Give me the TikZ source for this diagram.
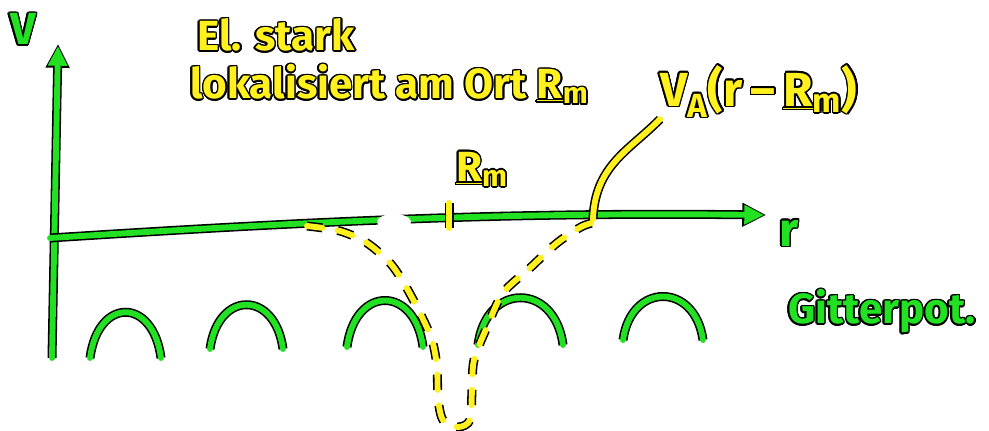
\documentclass[tikz,border=0pt]{standalone}
\usepackage{fontspec}
\setmainfont{Fira Sans}
\usepackage{contour}
\usepackage{tikz}
\usetikzlibrary{arrows.meta,positioning}
\definecolor{handgreen}{HTML}{22E022}
\definecolor{handyellow}{HTML}{FFF01E}
\contourlength{1.1pt}
\newcommand{\inkgreen}[1]{\contour{black}{\textcolor{handgreen}{#1}}}
\newcommand{\inkyellow}[1]{\contour{black}{\textcolor{handyellow}{#1}}}
\newcommand{\vecR}{\underline{R}\textsubscript{m}}
\tikzset{
  greenline/.style={line width=4.2pt, draw=handgreen, line cap=round, line join=round,
    preaction={draw=black, line width=6.4pt}},
  yellowline/.style={line width=4.2pt, draw=handyellow, line cap=round, line join=round,
    preaction={draw=black, line width=6.4pt}},
  yellowdash/.style={line width=4.2pt, draw=handyellow, line cap=round, line join=round,
    dash pattern=on 11pt off 11pt,
    preaction={draw=black, line width=6.4pt, dash pattern=on 11pt off 11pt}},
  axisline/.style={line width=4.2pt, draw=handgreen, line cap=round, line join=round,
    -{Triangle[length=14pt,width=13pt]},
    preaction={draw=black, line width=6.4pt, -{Triangle[length=17pt,width=16pt]}, shorten >=-1.5pt}},
  handlabel/.style={inner sep=0pt, font=\bfseries\fontsize{30}{32}\selectfont}
}
\begin{document}
\begin{tikzpicture}[x=0.025cm,y=-0.025cm]
  \useasboundingbox (0,0) rectangle (989,431);
  % axes
  \coordinate (origin) at (50,238);
  \coordinate (vtop) at (58,46);
  \coordinate (vbottom) at (52,358);
  \coordinate (rtip) at (764,215);
  \draw[axisline] (vbottom) -- (vtop);
  \draw[axisline] (origin) .. controls (300,222) and (500,212) .. (rtip);
  \node[handlabel, font=\bfseries\fontsize{32}{34}\selectfont] (vlabel) at (23,30) {\inkgreen{V}};
  \node[handlabel, font=\bfseries\fontsize{34}{36}\selectfont] (rlabel) at (789,234) {\inkgreen{r}};
  % lattice potential
  \foreach \sx/\ex/\by/\ty in {90/161/358/312, 210/283/349/305, 347/423/347/300, 478/563/345/297, 623/703/340/297}
    \draw[greenline] (\sx,\by) .. controls (\sx+8,\ty-15) and (\ex-8,\ty-15) .. (\ex,\by);
  \node[handlabel] (gitterlabel) at (882,312) {\inkgreen{Gitterpot.}};
  \fill[white] (394,222) ellipse (17 and 8);
  % atomic potential
  \draw[yellowline] (449,203) -- (449,228);
  \node[handlabel] (rmlabel) at (482,170) {\inkyellow{\vecR}};
  \draw[yellowdash] plot[smooth] coordinates {(307,226) (340,231) (367,243) (390,263) (405,285)
    (420,313) (432,340) (437,367) (438,398) (443,420) (458,427) (470,420) (472,390) (474,360)
    (487,327) (503,293) (530,268) (557,243) (583,226) (605,220)};
  \coordinate (vtail) at (593,219);
  \node[handlabel, font=\bfseries\fontsize{34}{36}\selectfont, anchor=west] (valabel) at (660,92)
    {\inkyellow{V\textsubscript{A}(r\,--\,\vecR)}};
  \draw[yellowline] (vtail) .. controls (595,165) and (630,150) .. (valabel.south west);
  % text
  \node[handlabel, anchor=west] (eltext) at (197,36) {\inkyellow{El. stark}};
  \node[handlabel, anchor=west] (lokaltext) at (190,85) {\inkyellow{lokalisiert am Ort \vecR}};
\end{tikzpicture}
\end{document}
